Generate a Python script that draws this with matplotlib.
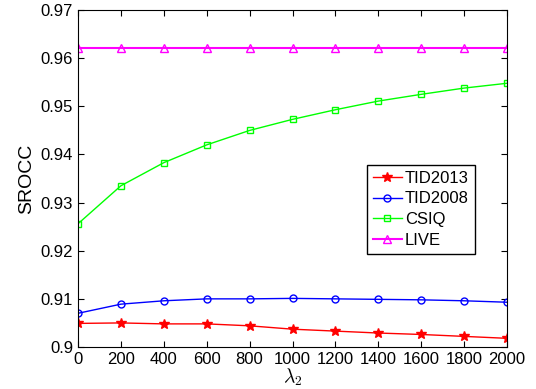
import matplotlib
matplotlib.use("Agg")
import matplotlib.pyplot as plt

plt.rcParams['font.family'] = ['Liberation Sans', 'DejaVu Sans']
plt.rcParams['mathtext.fontset'] = 'cm'

lam = [0, 200, 400, 600, 800, 1000, 1200, 1400, 1600, 1800, 2000]
tid2013 = [0.9049, 0.9050, 0.9048, 0.9048, 0.9044, 0.9037, 0.9033, 0.9029, 0.9026, 0.9022, 0.9018]
tid2008 = [0.9070, 0.9089, 0.9096, 0.9100, 0.9100, 0.9101, 0.9100, 0.9099, 0.9098, 0.9096, 0.9093]
csiq = [0.9256, 0.9335, 0.9383, 0.9420, 0.9450, 0.9473, 0.9493, 0.9511, 0.9525, 0.9538, 0.9548]
live = [0.9622, 0.9622, 0.9622, 0.9622, 0.9622, 0.9622, 0.9622, 0.9622, 0.9622, 0.9622, 0.9622]
xticks = [0, 200, 400, 600, 800, 1000, 1200, 1400, 1600, 1800, 2000]
yticks = [0.90, 0.91, 0.92, 0.93, 0.94, 0.95, 0.96, 0.97]

fig = plt.figure(figsize=(5.36, 3.89), dpi=100)
ax = fig.add_axes([0.1455, 0.108, 0.8005, 0.866])

ax.plot(lam, tid2013, color='#ff0000', marker='*', markersize=7, lw=1, label='TID2013')
ax.plot(lam, tid2008, color='#0000ff', marker='o', markersize=5, mfc='none', lw=1, label='TID2008')
ax.plot(lam, csiq, color='#00ff00', marker='s', markersize=5, mfc='none', lw=1, label='CSIQ')
ax.plot(lam, live, color='#ff00ff', marker='^', markersize=6, mfc='none', lw=1.5, label='LIVE')

ax.set_xlim(0, 2000)
ax.set_ylim(0.9, 0.97)
ax.set_xticks(xticks)
ax.set_yticks(yticks)
ax.set_yticklabels(['0.9', '0.91', '0.92', '0.93', '0.94', '0.95', '0.96', '0.97'])
ax.tick_params(direction='in', top=True, right=True, labelsize=12, length=4)
ax.set_xlabel(r'$\lambda_2$', fontsize=14, labelpad=0)
ax.set_ylabel('SROCC', fontsize=14)

leg = ax.legend(loc='upper left', bbox_to_anchor=(0.673, 0.541), fontsize=12,
                fancybox=False, framealpha=1, edgecolor='black', handlelength=1.75,
                handletextpad=0.2, borderpad=0.35, labelspacing=0.35, borderaxespad=0)
leg.get_frame().set_linewidth(1)

fig.savefig('out.png', dpi=100)
